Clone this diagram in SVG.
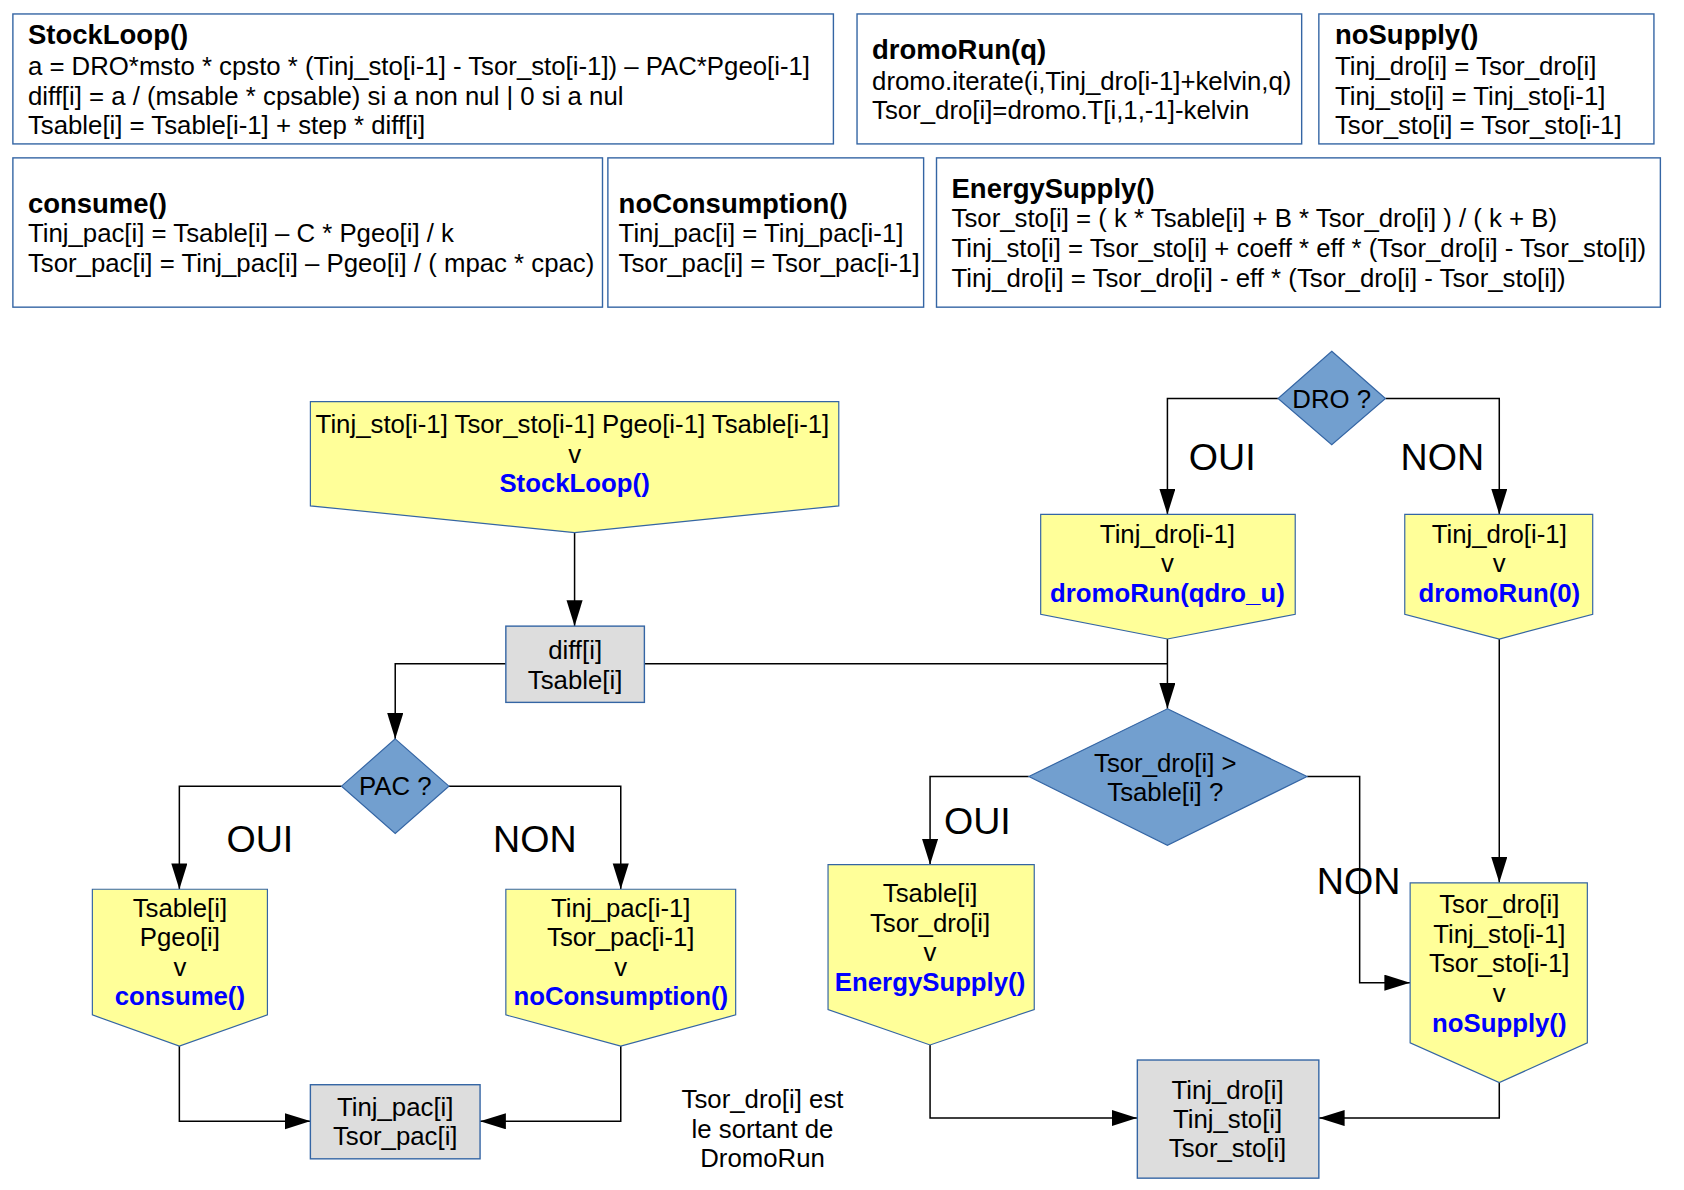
<svg xmlns="http://www.w3.org/2000/svg" width="1684" height="1190" viewBox="0 0 1684 1190">
<style>
text { font-family: "Liberation Sans", Arial, sans-serif; fill: #000; }
.t { font-size: 24px; }
.h { font-size: 25.6px; font-weight: bold; }
.f { font-size: 24px; font-weight: bold; fill: #0000ff; }
.m { text-anchor: middle; }
.lbl { font-size: 35px; text-anchor: middle; }
.box { fill: #ffffff; stroke: #3465a4; stroke-width: 1.3; }
.yel { fill: #ffff99; stroke: #3465a4; stroke-width: 1.1; }
.gray { fill: #dddddd; stroke: #3465a4; stroke-width: 1.3; }
.dia { fill: #729fcf; stroke: #3465a4; stroke-width: 1.1; }
.con { fill: none; stroke: #000; stroke-width: 1.4; }
.arr { marker-end: url(#ah); }
</style>
<defs>
<marker id="ah" markerUnits="userSpaceOnUse" markerWidth="24" markerHeight="16" refX="24" refY="7.5" orient="auto">
<path d="M0,0 L24,7.5 L0,15 Z" fill="#000"/>
</marker>
</defs>
<rect width="1684" height="1190" fill="#ffffff"/>
<g transform="scale(1.07398)">
<g id="def-stockloop">
<rect class="box" x="12" y="13" width="764" height="121"/>
<text class="h" x="26" y="41">StockLoop()</text>
<text class="t" x="26" y="69.5">a = DRO*msto * cpsto * (Tinj_sto[i-1] - Tsor_sto[i-1]) – PAC*Pgeo[i-1]</text>
<text class="t" x="26" y="97.5">diff[i] = a / (msable * cpsable) si a non nul | 0 si a nul</text>
<text class="t" x="26" y="124.5">Tsable[i] = Tsable[i-1] + step * diff[i]</text>
</g>
<g id="def-dromorun">
<rect class="box" x="798" y="13" width="414" height="121"/>
<text class="h" x="812" y="55">dromoRun(q)</text>
<text class="t" x="812" y="83.5">dromo.iterate(i,Tinj_dro[i-1]+kelvin,q)</text>
<text class="t" x="812" y="110.5">Tsor_dro[i]=dromo.T[i,1,-1]-kelvin</text>
</g>
<g id="def-nosupply">
<rect class="box" x="1228" y="13" width="312" height="121"/>
<text class="h" x="1243" y="41">noSupply()</text>
<text class="t" x="1243" y="69.5">Tinj_dro[i] = Tsor_dro[i]</text>
<text class="t" x="1243" y="97.5">Tinj_sto[i] = Tinj_sto[i-1]</text>
<text class="t" x="1243" y="124.5">Tsor_sto[i] = Tsor_sto[i-1]</text>
</g>
<g id="def-consume">
<rect class="box" x="12" y="147" width="549" height="139"/>
<text class="h" x="26" y="198">consume()</text>
<text class="t" x="26" y="225.5">Tinj_pac[i] = Tsable[i] – C * Pgeo[i] / k</text>
<text class="t" x="26" y="253.5">Tsor_pac[i] = Tinj_pac[i] – Pgeo[i] / ( mpac * cpac)</text>
</g>
<g id="def-noconsumption">
<rect class="box" x="566" y="147" width="294" height="139"/>
<text class="h" x="576" y="198">noConsumption()</text>
<text class="t" x="576" y="225.5">Tinj_pac[i] = Tinj_pac[i-1]</text>
<text class="t" x="576" y="253.5">Tsor_pac[i] = Tsor_pac[i-1]</text>
</g>
<g id="def-energysupply">
<rect class="box" x="872" y="147" width="674" height="139"/>
<text class="h" x="886" y="184">EnergySupply()</text>
<text class="t" x="886" y="211.5">Tsor_sto[i] = ( k * Tsable[i] + B * Tsor_dro[i] ) / ( k + B)</text>
<text class="t" x="886" y="239.5">Tinj_sto[i] = Tsor_sto[i] + coeff * eff * (Tsor_dro[i] - Tsor_sto[i])</text>
<text class="t" x="886" y="267.5">Tinj_dro[i] = Tsor_dro[i] - eff * (Tsor_dro[i] - Tsor_sto[i])</text>
</g>

<g id="connectors">
<path class="con arr" d="M535,496 V583"/>
<path class="con arr" d="M471,618 H368 V688"/>
<path class="con" d="M600,618 H1087"/>
<path class="con arr" d="M1087,595 V660"/>
<path class="con arr" d="M318,732 H167 V828"/>
<path class="con arr" d="M418,732 H578 V828"/>
<path class="con arr" d="M167,974 V1044 H289"/>
<path class="con arr" d="M578,974 V1044 H447"/>
<path class="con arr" d="M1190,371 H1087 V479"/>
<path class="con arr" d="M1290,371 H1396 V479"/>
<path class="con arr" d="M1396,595 V822"/>
<path class="con arr" d="M958,723 H866 V805"/>
<path class="con arr" d="M1217,723 H1266 V915 H1313"/>
<path class="con arr" d="M866,973 V1041 H1059"/>
<path class="con arr" d="M1396,1008 V1041 H1228"/>
<text class="lbl" x="242" y="793.5">OUI</text>
<text class="lbl" x="498" y="793.5">NON</text>
<text class="lbl" x="1138" y="437.5">OUI</text>
<text class="lbl" x="1343" y="437.5">NON</text>
<text class="lbl" x="910" y="776.5">OUI</text>
<text class="lbl" x="1265" y="832.5">NON</text>
</g>

<g id="n-stockloop">
<polygon class="yel" points="289,374 781,374 781,471 535,496 289,471"/>
<text class="t m" x="533" y="403.5">Tinj_sto[i-1] Tsor_sto[i-1] Pgeo[i-1] Tsable[i-1]</text>
<text class="t m" x="535" y="431">v</text>
<text class="f m" x="535" y="458.5">StockLoop()</text>
</g>
<g id="n-diff">
<rect class="gray" x="471" y="583" width="129" height="71"/>
<text class="t m" x="535.5" y="613.5">diff[i]</text>
<text class="t m" x="535.5" y="641.5">Tsable[i]</text>
</g>
<g id="n-pac">
<polygon class="dia" points="368,688 418,732 368,776 318,732"/>
<text class="t m" x="368" y="740.5">PAC ?</text>
</g>
<g id="n-consume">
<polygon class="yel" points="86,828 249,828 249,945 167,974 86,945"/>
<text class="t m" x="167.5" y="853.5">Tsable[i]</text>
<text class="t m" x="167.5" y="881">Pgeo[i]</text>
<text class="t m" x="167.5" y="908.5">v</text>
<text class="f m" x="167.5" y="936">consume()</text>
</g>
<g id="n-noconsumption">
<polygon class="yel" points="471,828 685,828 685,945 578,974 471,945"/>
<text class="t m" x="578" y="853.5">Tinj_pac[i-1]</text>
<text class="t m" x="578" y="881">Tsor_pac[i-1]</text>
<text class="t m" x="578" y="908.5">v</text>
<text class="f m" x="578" y="936">noConsumption()</text>
</g>
<g id="n-pacout">
<rect class="gray" x="289" y="1010" width="158" height="69"/>
<text class="t m" x="368" y="1039.5">Tinj_pac[i]</text>
<text class="t m" x="368" y="1066.5">Tsor_pac[i]</text>
</g>
<g id="note">
<text class="t m" x="710" y="1031.5">Tsor_dro[i] est</text>
<text class="t m" x="710" y="1059.5">le sortant de</text>
<text class="t m" x="710" y="1086.5">DromoRun</text>
</g>
<g id="n-dro">
<polygon class="dia" points="1240,327 1290,371 1240,414 1190,371"/>
<text class="t m" x="1240" y="379.5">DRO ?</text>
</g>
<g id="n-dromorun-q">
<polygon class="yel" points="969,479 1206,479 1206,572 1087,595 969,572"/>
<text class="t m" x="1087" y="505.5">Tinj_dro[i-1]</text>
<text class="t m" x="1087" y="533">v</text>
<text class="f m" x="1087" y="560.5">dromoRun(qdro_u)</text>
</g>
<g id="n-dromorun-0">
<polygon class="yel" points="1308,479 1483,479 1483,572 1396,595 1308,572"/>
<text class="t m" x="1396" y="505.5">Tinj_dro[i-1]</text>
<text class="t m" x="1396" y="533">v</text>
<text class="f m" x="1396" y="560.5">dromoRun(0)</text>
</g>
<g id="n-tsor">
<polygon class="dia" points="1087,660 1217,723 1087,787 958,723"/>
<text class="t m" x="1085" y="718.5">Tsor_dro[i] &gt;</text>
<text class="t m" x="1085" y="745.5">Tsable[i] ?</text>
</g>
<g id="n-energysupply">
<polygon class="yel" points="771,805 963,805 963,940 866,973 771,940"/>
<text class="t m" x="866" y="839.5">Tsable[i]</text>
<text class="t m" x="866" y="867.5">Tsor_dro[i]</text>
<text class="t m" x="866" y="895">v</text>
<text class="f m" x="866" y="922.5">EnergySupply()</text>
</g>
<g id="n-nosupply">
<polygon class="yel" points="1313,822 1478,822 1478,971 1396,1008 1313,971"/>
<text class="t m" x="1396" y="850.5">Tsor_dro[i]</text>
<text class="t m" x="1396" y="878">Tinj_sto[i-1]</text>
<text class="t m" x="1396" y="905.5">Tsor_sto[i-1]</text>
<text class="t m" x="1396" y="933">v</text>
<text class="f m" x="1396" y="960.5">noSupply()</text>
</g>
<g id="n-droout">
<rect class="gray" x="1059" y="987" width="169" height="110"/>
<text class="t m" x="1143" y="1023.5">Tinj_dro[i]</text>
<text class="t m" x="1143" y="1050.5">Tinj_sto[i]</text>
<text class="t m" x="1143" y="1077.5">Tsor_sto[i]</text>
</g>
</g>
</svg>
